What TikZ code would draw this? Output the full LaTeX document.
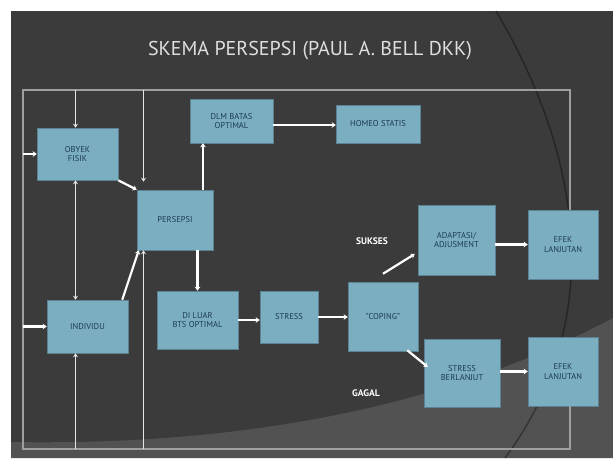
\documentclass[tikz,border=0pt]{standalone}
\usepackage{fontspec}
\setmainfont{PT Sans}
\usetikzlibrary{arrows.meta,calc}
\definecolor{latar}{HTML}{3B3B3B}
\definecolor{latarterang}{HTML}{525252}
\definecolor{kotakbiru}{HTML}{7AAEC0}
\definecolor{teksbiru}{HTML}{1E3A56}
\tikzset{
  kotak/.style={fill=kotakbiru, draw=kotakbiru!75!black, line width=0.5pt, text=teksbiru,
    align=center, font=\fontsize{8.5}{9.5}\selectfont, inner sep=1pt},
  panah/.style={draw=white, line width=2.2pt, -{Stealth[length=4pt,width=5.5pt]}},
  garis/.style={draw=white!90!black, line width=1.6pt, -{Stealth[length=4pt,width=5pt]}},
  bingkai/.style={draw=gray!75, line width=1.2pt},
  keterangan/.style={text=white, font=\bfseries\fontsize{9.5}{10}\selectfont}
}
\begin{document}
\begin{tikzpicture}[x=1pt,y=-1pt]
 \useasboundingbox (0,0) rectangle (613,458);
 % latar slide
 \fill[white] (0,0) rectangle (613,458);
 \fill[latar] (11,11) rectangle (613,458);
 \fill[latarterang] (11,442) .. controls (250,446) and (450,405) .. (613,318) -- (613,458) -- (11,458) -- cycle;
 \draw[black, line width=1.5pt, opacity=0.35] (496,11) .. controls (590,170) and (600,330) .. (505,458);
 % judul
 \node[text=gray!25, font=\fontsize{20}{21}\selectfont] (judul) at (310,51) {SKEMA PERSEPSI (PAUL A. BELL DKK)};
 % kotak
 \node[kotak, minimum width=81pt, minimum height=52pt] (obyek) at (77.5,154) {OBYEK\\FISIK};
 \node[kotak, minimum width=76pt, minimum height=60pt] (persepsi) at (175,220) {PERSEPSI};
 \node[kotak, minimum width=83pt, minimum height=44pt] (dlm) at (231.5,121) {DLM BATAS\\OPTIMAL};
 \node[kotak, minimum width=84pt, minimum height=38pt] (homeo) at (378,124) {HOMEO STATIS};
 \node[kotak, minimum width=81pt, minimum height=53pt] (individu) at (87.5,326.5) {INDIVIDU};
 \node[kotak, minimum width=81pt, minimum height=58pt] (diluar) at (197.5,320) {DI LUAR\\BTS OPTIMAL};
 \node[kotak, minimum width=58pt, minimum height=52pt] (stress) at (289,317) {STRESS};
 \node[kotak, minimum width=70pt, minimum height=69pt] (coping) at (383,316.5) {"COPING"};
 \node[kotak, minimum width=77pt, minimum height=70pt] (adaptasi) at (456.5,240) {ADAPTASI/\\ADJUSMENT};
 \node[kotak, minimum width=70pt, minimum height=69pt] (efek1) at (563,244.5) {EFEK\\LANJUTAN};
 \node[kotak, minimum width=76pt, minimum height=68pt] (berlanjut) at (462,373) {STRESS\\BERLANJUT};
 \node[kotak, minimum width=70pt, minimum height=69pt] (efek2) at (563,371.5) {EFEK\\LANJUTAN};
 \node[keterangan] (sukses) at (372,241) {SUKSES};
 \node[keterangan] (gagal) at (366,393) {GAGAL};
 % titik bantu bingkai
 \coordinate (ka) at (570,90);
 \coordinate (kb) at (23,449);
 \coordinate (lajur1) at (75.5,0);
 \coordinate (lajur2) at (143.5,0);
 \coordinate (lajur3) at (203,0);
 % bingkai umpan balik
 \draw[bingkai] (efek1.north -| ka) -- (ka) -- (kb |- ka) -- (kb) -- (ka |- kb) -- (efek2.south -| ka);
 % garis dari bingkai
 \draw[garis] (lajur1 |- ka) -- (obyek.north -| lajur1);
 \draw[garis] (lajur2 |- ka) -- ($(lajur2 |- persepsi.north)+(0,-8)$);
 \draw[garis] (lajur2 |- kb) -- (persepsi.south -| lajur2);
 \draw[garis] (lajur1 |- kb) -- (individu.south -| lajur1);
 \draw[garis, {Stealth[length=4pt,width=5pt]}-{Stealth[length=4pt,width=5pt]}] (obyek.south -| lajur1) -- (individu.north -| lajur1);
 \draw[panah] (kb |- obyek.west) -- (obyek.west);
 \draw[panah] (kb |- individu.west) -- (individu.west);
 % panah antar kotak
 \draw[panah] (obyek.south east) -- (persepsi.north west);
 \draw[panah] ($(individu.north east)+(-6,0)$) -- ($(persepsi.south west)+(2,0)$);
 \draw[panah] (persepsi.north -| lajur3) -- (dlm.south -| lajur3);
 \draw[panah] ($(dlm.east)+(0,4)$) -- ($(dlm.east -| homeo.west)+(0,4)$);
 \draw[panah] (persepsi.south -| diluar.north) -- (diluar.north);
 \draw[panah] (diluar.east) -- (diluar.east -| stress.west);
 \draw[panah] (stress.east) -- (stress.east -| coping.west);
 \draw[panah] ($(coping.north)+(0,-8)$) -- ($(adaptasi.west)+(-3,14)$);
 \draw[panah] ($(coping.south east)+(-11,-1)$) -- ($(berlanjut.west)+(4,-6)$);
 \draw[panah] (efek1.west -| adaptasi.east) -- (efek1.west);
 \draw[panah] (efek2.west -| berlanjut.east) -- (efek2.west);
\end{tikzpicture}
\end{document}
